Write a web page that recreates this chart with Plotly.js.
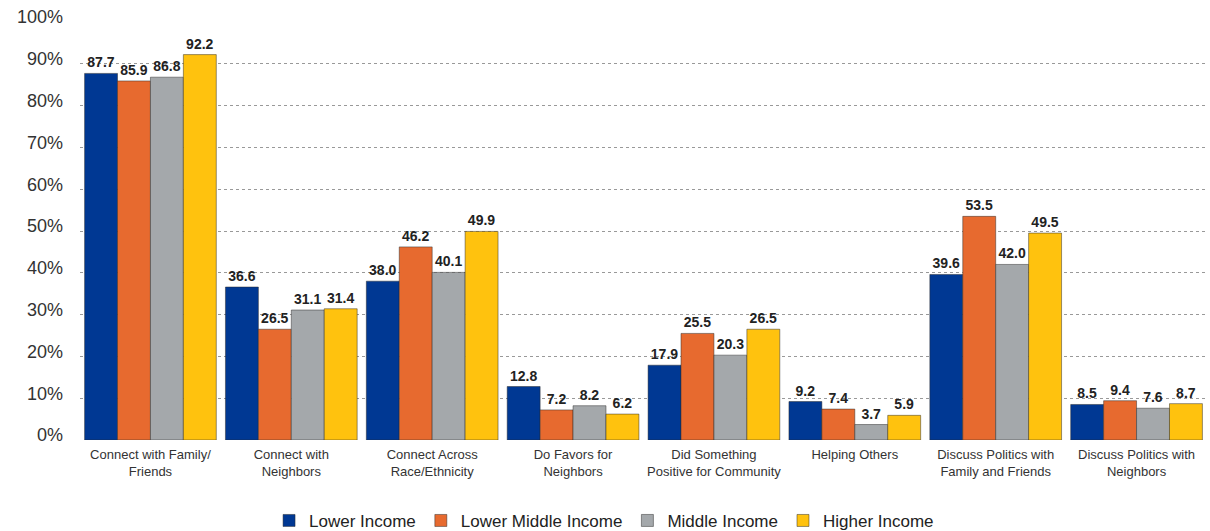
<!DOCTYPE html>
<html>
<head>
<meta charset="utf-8">
<script src="https://cdn.plot.ly/plotly-3.0.1.min.js"></script>
<style>html,body{margin:0;padding:0;background:#fff;}#chart{width:1210px;height:531px;}</style>
</head>
<body>
<div id="chart"></div>
<script>
const categories = [
  "Connect with Family/<br>Friends",
  "Connect with<br>Neighbors",
  "Connect Across<br>Race/Ethnicity",
  "Do Favors for<br>Neighbors",
  "Did Something<br>Positive for Community",
  "Helping Others",
  "Discuss Politics with<br>Family and Friends",
  "Discuss Politics with<br>Neighbors"
];
const lowerIncome = [87.7, 36.6, 38.0, 12.8, 17.9, 9.2, 39.6, 8.5];
const lowerMiddleIncome = [85.9, 26.5, 46.2, 7.2, 25.5, 7.4, 53.5, 9.4];
const middleIncome = [86.8, 31.1, 40.1, 8.2, 20.3, 3.7, 42.0, 7.6];
const higherIncome = [92.2, 31.4, 49.9, 6.2, 26.5, 5.9, 49.5, 8.7];
const seriesNames = ["Lower Income", "Lower Middle Income", "Middle Income", "Higher Income"];
const colors = ["#003893", "#E76A2F", "#A4A8AB", "#FFC20E"];
const yTicks = [0,10,20,30,40,50,60,70,80,90,100];

const data = [lowerIncome, lowerMiddleIncome, middleIncome, higherIncome].map((vals, i) => ({
  type: 'bar',
  name: seriesNames[i],
  x: categories,
  y: vals,
  marker: {color: colors[i], line: {color: 'rgba(40,40,40,0.6)', width: 0.8}},
  texttemplate: '%{y:.1f}',
  textposition: 'outside',
  cliponaxis: false,
  textfont: {family: 'Liberation Sans, Arial, sans-serif', size: 14, color: '#222', weight: 'bold'},
  hoverinfo: 'none'
}));

const layout = {
  width: 1210, height: 531,
  margin: {l: 80, r: 3, t: 22, b: 91},
  paper_bgcolor: '#fff', plot_bgcolor: '#fff',
  barmode: 'group',
  bargap: 0.065,
  bargroupgap: 0,
  font: {family: 'Liberation Sans, Arial, sans-serif', color: '#333'},
  xaxis: {
    tickfont: {size: 13, color: '#333'},
    showline: false, showgrid: false, ticks: '', automargin: false,
    ticklabelstandoff: 5
  },
  yaxis: {
    range: [0, 100],
    tickvals: yTicks,
    ticktext: yTicks.map(v => v + '%'),
    tickfont: {size: 18, color: '#333'},
    showgrid: true, gridcolor: '#999', griddash: 'dot', gridwidth: 1,
    zeroline: false, showline: false, ticks: '', ticklabelstandoff: 16, automargin: false,
    ticklabelshift: -5
  },
  shapes: [{
    type: 'line', xref: 'paper', yref: 'y', x0: 0.917, x1: 1.01, y0: 100, y1: 100,
    line: {color: '#fff', width: 3}, layer: 'above'
  }],
  showlegend: true,
  legend: {
    orientation: 'h', x: 0.465, xanchor: 'center',
    yref: 'container', y: 0.019, yanchor: 'middle',
    font: {size: 17, color: '#222'}, traceorder: 'normal', itemwidth: 30
  }
};
Plotly.newPlot('chart', data, layout, {displayModeBar: false, staticPlot: true});
</script>
</body>
</html>
